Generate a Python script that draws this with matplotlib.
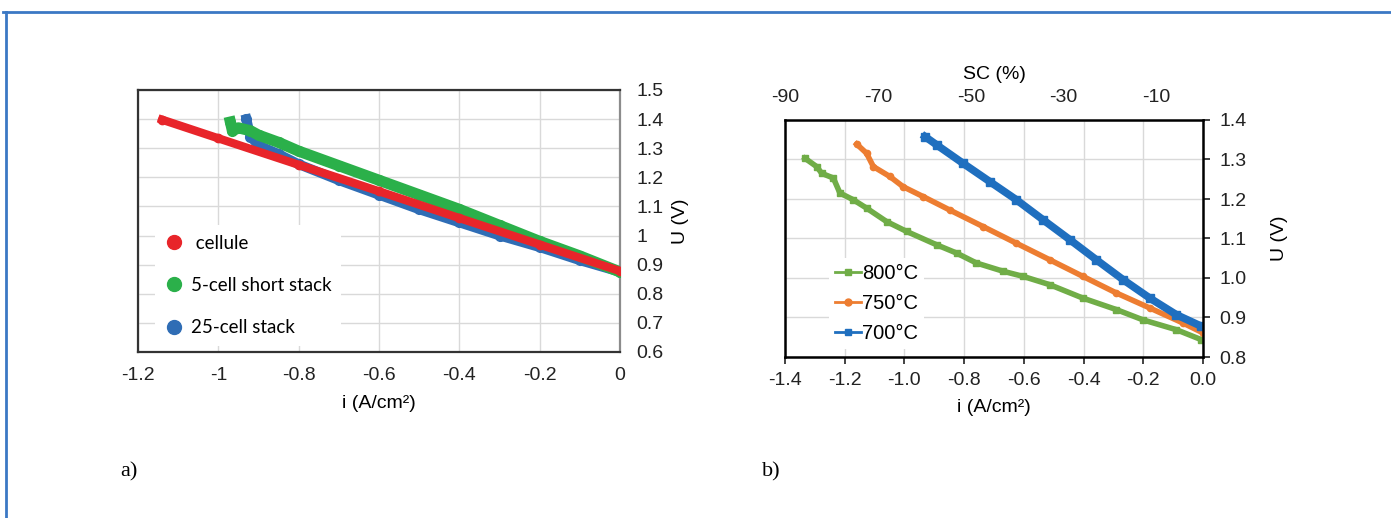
import matplotlib.pyplot as plt
from matplotlib.lines import Line2D
from matplotlib.ticker import FuncFormatter, MultipleLocator

# ---- panel a) : i-U curves, cell vs stacks ----
i_cell = [-1.14, -1.0, -0.8, -0.6, -0.4, -0.2, 0.0]
u_cell = [1.398, 1.334, 1.243, 1.152, 1.060, 0.969, 0.878]

i_5cell = [-0.97, -0.965, -0.95, -0.92, -0.9, -0.85, -0.8, -0.7, -0.6, -0.5, -0.4, -0.3, -0.2, -0.1, 0.0]
u_5cell = [1.39, 1.36, 1.37, 1.36, 1.345, 1.32, 1.29, 1.24, 1.19, 1.14, 1.09, 1.035, 0.98, 0.93, 0.875]

i_25cell = [-0.93, -0.92, -0.9, -0.85, -0.8, -0.7, -0.6, -0.5, -0.4, -0.3, -0.2, -0.1, 0.0]
u_25cell = [1.40, 1.34, 1.31, 1.28, 1.245, 1.19, 1.14, 1.09, 1.045, 1.0, 0.96, 0.915, 0.875]

# ---- panel b) : i-U curves at three temperatures ----
i_800 = [-1.333, -1.294, -1.277, -1.238, -1.216, -1.171, -1.127, -1.060, -0.993, -0.892,
         -0.825, -0.759, -0.669, -0.602, -0.513, -0.402, -0.290, -0.201, -0.089, -0.006]
u_800 = [1.303, 1.282, 1.265, 1.253, 1.215, 1.198, 1.177, 1.143, 1.118, 1.084,
         1.063, 1.038, 1.017, 1.004, 0.983, 0.949, 0.920, 0.894, 0.869, 0.844]

i_750 = [-1.160, -1.127, -1.104, -1.049, -1.004, -0.937, -0.848, -0.736, -0.625, -0.513,
         -0.402, -0.290, -0.178, -0.067, 0.0]
u_750 = [1.339, 1.316, 1.282, 1.257, 1.231, 1.206, 1.172, 1.130, 1.088, 1.046,
         1.004, 0.962, 0.924, 0.886, 0.861]

i_700 = [-0.931, -0.892, -0.803, -0.714, -0.625, -0.535, -0.446, -0.357, -0.268, -0.178,
         -0.089, -0.006]
u_700 = [1.358, 1.337, 1.290, 1.244, 1.198, 1.147, 1.097, 1.046, 0.996, 0.949, 0.907, 0.878]

plt.rcParams['font.family'] = 'Liberation Sans'
plt.rcParams['axes.unicode_minus'] = False

fig = plt.figure(figsize=(13.91, 5.18), dpi=100)

# blue frame around the figure
fig.add_artist(Line2D([0.0025, 1.0], [1 - 12 / 518, 1 - 12 / 518], transform=fig.transFigure,
                      color='#3b78c4', lw=2))
fig.add_artist(Line2D([0.004, 0.004], [0.0, 1 - 12 / 518], transform=fig.transFigure,
                      color='#3b78c4', lw=2))

grid_col = '#d9d9d9'
fs = 14
fmt_g = FuncFormatter(lambda v, p: '%g' % round(v, 2) if abs(v) > 1e-9 else '0')

# ================= panel a =================
ax1 = fig.add_axes([138 / 1391, 1 - 352 / 518, 482 / 1391, 262 / 518])
ax1.set_xlim(-1.2, 0)
ax1.set_ylim(0.6, 1.5)
ax1.xaxis.set_major_locator(MultipleLocator(0.2))
ax1.yaxis.set_major_locator(MultipleLocator(0.1))
ax1.xaxis.set_major_formatter(fmt_g)
ax1.yaxis.set_major_formatter(fmt_g)
ax1.grid(True, color=grid_col, lw=1)
ax1.set_axisbelow(True)
ax1.yaxis.tick_right()
ax1.yaxis.set_label_position('right')
ax1.tick_params(length=0, labelsize=fs, colors='#222222')
ax1.tick_params(axis='y', pad=12)
ax1.tick_params(axis='x', pad=11)
for s in ['top', 'left', 'bottom']:
    ax1.spines[s].set_color('#333333')
    ax1.spines[s].set_linewidth(1.6)
ax1.spines['right'].set_color('#8c8c8c')
ax1.spines['right'].set_linewidth(1.6)

ax1.plot(i_25cell, u_25cell, '-o', color='#2f6db5', lw=7, ms=7, zorder=2)
ax1.plot(i_5cell, u_5cell, '-o', color='#2bb04a', lw=8, ms=7, zorder=3)
ax1.plot(i_cell, u_cell, '-o', color='#e8252a', lw=6, ms=6, zorder=4)

hdl = [Line2D([], [], ls='', marker='o', ms=10, color=c) for c in ['#e8252a', '#2bb04a', '#2f6db5']]
leg1 = ax1.legend(hdl, [' cellule', '5-cell short stack', '25-cell stack'],
                  loc='upper left', bbox_to_anchor=(0.016, 0.52), frameon=True,
                  facecolor='white', edgecolor='none', framealpha=1, fancybox=False,
                  prop={'family': 'Lato', 'size': 13.5}, handlelength=1.0, handletextpad=0.4,
                  labelspacing=1.35, borderpad=0.5)
leg1.set_zorder(5)

ax1.set_xlabel('i (A/cm²)', fontsize=fs, labelpad=8)
ax1.set_ylabel('U (V)', fontsize=fs, labelpad=6)

# ================= panel b =================
ax2 = fig.add_axes([785 / 1391, 1 - 357 / 518, 418 / 1391, 237 / 518])
ax2.set_xlim(-1.4, 0.0)
ax2.set_ylim(0.8, 1.4)
ax2.xaxis.set_major_locator(MultipleLocator(0.2))
ax2.yaxis.set_major_locator(MultipleLocator(0.1))
ax2.xaxis.set_major_formatter(FuncFormatter(lambda v, p: '%.1f' % (0.0 if abs(v) < 1e-9 else v)))
ax2.yaxis.set_major_formatter(FuncFormatter(lambda v, p: '%.1f' % v))
ax2.grid(True, color=grid_col, lw=1)
ax2.set_axisbelow(True)
ax2.yaxis.tick_right()
ax2.yaxis.set_label_position('right')
ax2.tick_params(length=5, width=1.2, labelsize=fs, colors='#222222', direction='out')
ax2.tick_params(axis='y', pad=7)
ax2.tick_params(axis='x', pad=6)
for s in ax2.spines.values():
    s.set_color('black')
    s.set_linewidth(1.8)

ax2.plot(i_800, u_800, '-s', color='#70ad47', lw=4, ms=4.5, label='800°C')
ax2.plot(i_750, u_750, '-o', color='#ed7d31', lw=4, ms=4.5, label='750°C')
ax2.plot(i_700, u_700, '-s', color='#1f6fbf', lw=5.5, ms=5.5, label='700°C')

leg2 = ax2.legend(loc='upper left', bbox_to_anchor=(0.08, 0.46), frameon=True,
                  facecolor='white', edgecolor='none', framealpha=1, fancybox=False,
                  fontsize=14.5, handlelength=1.3, handletextpad=0.05, labelspacing=0.55,
                  borderpad=0.3)
for ln in leg2.get_lines():
    ln.set_linewidth(2)
    ln.set_markersize(5)

ax2.set_xlabel('i (A/cm²)', fontsize=fs, labelpad=7)
ax2.set_ylabel('U (V)', fontsize=fs, labelpad=17)

sec = ax2.secondary_xaxis('top', functions=(lambda x: x * 90 / 1.4, lambda s: s * 1.4 / 90))
sec.set_xticks([-90, -70, -50, -30, -10])
sec.tick_params(length=0, labelsize=fs, colors='#222222', pad=10)
sec.spines['top'].set_visible(False)
sec.set_xlabel('SC (%)', fontsize=fs, labelpad=7)

# panel letters
fig.text(120 / 1391, 1 - 472 / 518, 'a)', family='Liberation Serif', fontsize=16, va='center')
fig.text(762 / 1391, 1 - 472 / 518, 'b)', family='Liberation Serif', fontsize=16, va='center')

plt.savefig('out.png', dpi=100)
